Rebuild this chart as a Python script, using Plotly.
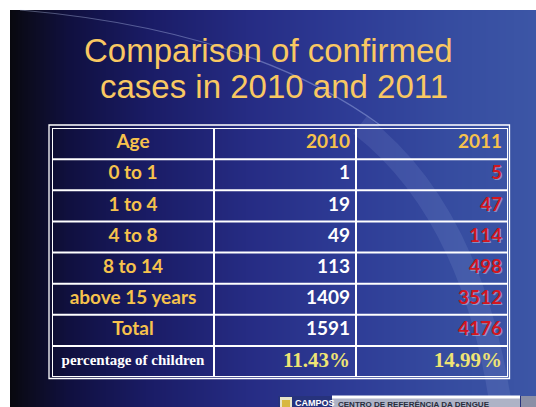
import plotly.graph_objects as go

W, H = 536, 407

# ---------------- data ----------------
title_lines = ["Comparison of confirmed", "cases in 2010 and 2011"]
header_labels = ["Age", "2010", "2011"]
age_groups = ["0 to 1", "1 to 4", "4 to 8", "8 to 14", "above 15 years", "Total"]
cases_2010 = [1, 19, 49, 113, 1409, 1591]
cases_2011 = [5, 47, 114, 498, 3512, 4176]
pct_label = "percentage of children"
pct_2010 = "11.43%"
pct_2011 = "14.99%"
footer_org = "CAMPOS"
footer_text = "CENTRO DE REFERÊNCIA DA DENGUE"


def px(x):
    return x / W


def py(y):
    return 1 - y / H


shapes = []

# slide background gradient (left near-black -> right blue)
stops = [(10, (8, 8, 14)), (30, (12, 12, 32)), (70, (16, 16, 64)), (150, (26, 28, 102)),
         (250, (38, 44, 132)), (350, (46, 60, 150)), (450, (54, 76, 160)), (536, (60, 86, 166))]


def col_at(x):
    for (x0, c0), (x1, c1) in zip(stops[:-1], stops[1:]):
        if x0 <= x <= x1:
            t = (x - x0) / (x1 - x0)
            return tuple(round(a + (b - a) * t) for a, b in zip(c0, c1))
    return stops[-1][1]


step = 2
for x in range(10, W, step):
    r, g, b = col_at(x + step / 2)
    shapes.append(dict(type="rect", xref="paper", yref="paper", x0=px(x), x1=px(min(x + step + 0.5, W)),
                       y0=0, y1=py(10), line=dict(width=0), fillcolor=f"rgb({r},{g},{b})", layer="below"))

# faint decorative arcs
shapes.append(dict(type="path", xref="paper", yref="paper",
                   path=f"M {px(20)} {py(10)} Q {px(250)} {py(30)} {px(380)} {py(125)}",
                   line=dict(color="rgba(200,215,255,0.35)", width=1.2), layer="below"))
shapes.append(dict(type="path", xref="paper", yref="paper",
                   path=f"M {px(360)} {py(125)} Q {px(470)} {py(210)} {px(500)} {py(400)}",
                   line=dict(color="rgba(200,215,255,0.10)", width=22), layer="below"))

# ---------------- table grid (in axis units: x = pixels across table, y = row index) ----------------
col_edges = [0, 162, 304, 456]
n_rows = 1 + len(age_groups) + 1  # header + groups + percentage row
grid = dict(color="white", width=2)
for xe in col_edges:
    shapes.append(dict(type="line", xref="x", yref="y", x0=xe, x1=xe, y0=0, y1=n_rows, line=grid))
for r in range(n_rows + 1):
    shapes.append(dict(type="line", xref="x", yref="y", x0=col_edges[0], x1=col_edges[-1], y0=r, y1=r,
                       line=grid))
# outer second border line
shapes.append(dict(type="rect", xref="paper", yref="paper", x0=px(49), x1=px(509.5), y0=py(378.5), y1=py(125),
                   line=dict(color="white", width=1.3), fillcolor="rgba(0,0,0,0)"))

# footer
shapes += [
    dict(type="rect", xref="paper", yref="paper", x0=px(278), x1=px(536), y0=0, y1=py(396),
         line=dict(width=0), fillcolor="#27337c", layer="above"),
    dict(type="rect", xref="paper", yref="paper", x0=px(280), x1=px(292), y0=0, y1=py(397),
         line=dict(width=0), fillcolor="#e8e4c8", layer="above"),
    dict(type="rect", xref="paper", yref="paper", x0=px(282), x1=px(290), y0=0, y1=py(400),
         line=dict(width=0), fillcolor="#d8b840", layer="above"),
    dict(type="rect", xref="paper", yref="paper", x0=px(332), x1=px(520), y0=0, y1=py(396),
         line=dict(width=0), fillcolor="#aeb3c6", layer="above"),
    dict(type="rect", xref="paper", yref="paper", x0=px(332), x1=px(520), y0=py(398.5), y1=py(395.5),
         line=dict(width=0), fillcolor="white", layer="above"),
    dict(type="rect", xref="paper", yref="paper", x0=px(521), x1=px(536), y0=0, y1=py(396),
         line=dict(width=0), fillcolor="#8a8fa6", layer="above"),
]

# ---------------- cell texts ----------------
sans = "Lato, 'Open Sans', sans-serif"
serif = "'Liberation Serif', 'DejaVu Serif', serif"
gold = "#f6c24c"
red = "#d2161f"
pale_yellow = "#efe474"
pad = 6
x_center1 = (col_edges[0] + col_edges[1]) / 2
x_right2 = col_edges[2] - pad
x_right3 = col_edges[3] - pad

rows_groups = [i + 1.5 for i in range(len(age_groups))]
row_pct = n_rows - 0.5
bsz = 19


def text_trace(x, y, texts, pos, family, size, color, shadow=None):
    tf = dict(family=family, size=size, color=color)
    tr = go.Scatter(x=x, y=y, text=texts, mode="text", textposition=pos, textfont=tf,
                    hoverinfo="skip", showlegend=False, cliponaxis=False)
    if shadow:
        try:
            tr.update(textfont_shadow=shadow)
        except Exception:
            pass
    return tr


traces = [
    # header
    text_trace([x_center1], [0.5], [f"<b>{header_labels[0]}</b>"], "middle center", sans, bsz, gold),
    text_trace([x_right2], [0.5], [f"<b>{header_labels[1]}</b>"], "middle left", sans, bsz, gold),
    text_trace([x_right3], [0.5], [f"<b>{header_labels[2]}</b>"], "middle left", sans, bsz, gold),
    # body
    text_trace([x_center1] * len(age_groups), rows_groups, [f"<b>{a}</b>" for a in age_groups],
               "middle center", sans, bsz, gold),
    text_trace([x_right2] * len(cases_2010), rows_groups, [f"<b>{v}</b>" for v in cases_2010],
               "middle left", sans, bsz, "white"),
    text_trace([x_right3] * len(cases_2011), rows_groups, [f"<b>{v}</b>" for v in cases_2011],
               "middle left", sans, bsz, red, shadow="1px 1px 0px rgba(225,225,235,0.45)"),
    # percentage row
    text_trace([x_center1], [row_pct], [f"<b>{pct_label}</b>"], "middle center", serif, 15, "white"),
    text_trace([x_right2], [row_pct], [f"<b>{pct_2010}</b>"], "middle left", serif, 21, pale_yellow),
    text_trace([x_right3], [row_pct], [f"<b>{pct_2011}</b>"], "middle left", serif, 21, pale_yellow),
]

fig = go.Figure(traces)

annotations = [
    dict(text=title_lines[0], x=px(268), y=py(50), xref="paper", yref="paper", showarrow=False,
         xanchor="center", yanchor="middle",
         font=dict(family="'Liberation Sans', Arial, sans-serif", size=33, color="#f9c862")),
    dict(text=title_lines[1], x=px(274), y=py(87), xref="paper", yref="paper", showarrow=False,
         xanchor="center", yanchor="middle",
         font=dict(family="'Liberation Sans', Arial, sans-serif", size=33, color="#f9c862")),
    dict(text=f"<b>{footer_org}</b>", x=px(293), y=py(395.5), xref="paper", yref="paper", showarrow=False,
         xanchor="left", yanchor="top",
         font=dict(family="'Liberation Sans', Arial, sans-serif", size=9, color="white")),
    dict(text=f"<b>{footer_text}</b>", x=px(336), y=py(397.5), xref="paper", yref="paper", showarrow=False,
         xanchor="left", yanchor="top",
         font=dict(family="'Liberation Sans', Arial, sans-serif", size=8, color="#2a2d3c")),
]

fig.update_layout(
    width=W, height=H,
    margin=dict(l=0, r=0, t=0, b=0),
    paper_bgcolor="white",
    plot_bgcolor="rgba(0,0,0,0)",
    shapes=shapes,
    annotations=annotations,
    showlegend=False,
    xaxis=dict(domain=[px(52), px(508)], range=[col_edges[0], col_edges[-1]], visible=False, fixedrange=True),
    yaxis=dict(domain=[py(377), py(128)], range=[n_rows, 0], visible=False, fixedrange=True),
)

fig.write_html("out.html", config={"displayModeBar": False},
               post_script="document.body.style.margin='0';")
